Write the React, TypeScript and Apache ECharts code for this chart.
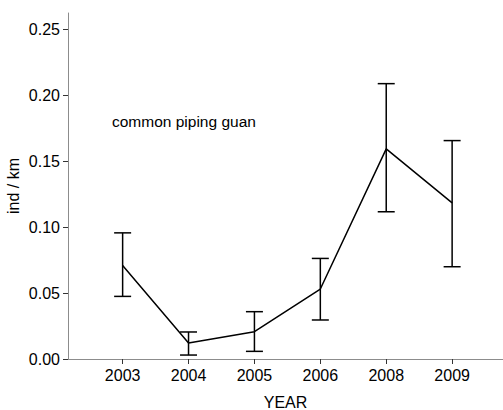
import React, { useEffect, useRef } from "react";
import * as echarts from "echarts";

const years = ["2003", "2004", "2005", "2006", "2008", "2009"];
const means = [0.071, 0.0121, 0.0207, 0.0531, 0.1594, 0.1185];
const upper = [0.0957, 0.0205, 0.0359, 0.0763, 0.2089, 0.1657];
const lower = [0.0475, 0.003, 0.0058, 0.0296, 0.1117, 0.07];
const yTicks = [0, 0.05, 0.1, 0.15, 0.2, 0.25];
const annotation = "common piping guan";

const FONT = "'Liberation Sans', Arial, sans-serif";

export default function App() {
  const ref = useRef<HTMLDivElement>(null);
  useEffect(() => {
    if (!ref.current) return;
    const chart = echarts.init(ref.current, null, { renderer: "svg" });
    const idx = years.map((_, i) => i);
    chart.setOption({
      animation: false,
      backgroundColor: "#ffffff",
      grid: {
        left: 68,
        right: 0,
        top: 13,
        bottom: 51,
        containLabel: false,
        outerBoundsMode: "none",
      },
      xAxis: {
        type: "value",
        min: -0.829,
        max: 5.772,
        name: "YEAR",
        nameLocation: "middle",
        nameGap: 35,
        nameMoveOverlap: false,
        nameTextStyle: { fontFamily: FONT, fontSize: 16, color: "#000" },
        axisLine: { show: true, onZero: false, lineStyle: { color: "#8c8c8c", width: 1 } },
        axisTick: {
          show: true,
          customValues: idx,
          length: 5,
          lineStyle: { color: "#333", width: 1 },
        },
        axisLabel: {
          customValues: idx,
          formatter: (v: number) => years[Math.round(v)] ?? "",
          fontFamily: FONT,
          fontSize: 16,
          color: "#000",
          margin: 8,
        },
        splitLine: { show: false },
      },
      yAxis: {
        type: "value",
        min: 0,
        max: 0.2625,
        name: "ind / km",
        nameLocation: "middle",
        nameGap: 47,
        nameRotate: 90,
        nameMoveOverlap: false,
        nameTextStyle: { fontFamily: FONT, fontSize: 16, color: "#000" },
        axisLine: { show: true, onZero: false, lineStyle: { color: "#8c8c8c", width: 1 } },
        axisTick: {
          show: true,
          customValues: yTicks,
          length: 5,
          lineStyle: { color: "#333", width: 1 },
        },
        axisLabel: {
          customValues: yTicks,
          formatter: (v: number) => v.toFixed(2),
          fontFamily: FONT,
          fontSize: 16,
          color: "#000",
          margin: 8,
        },
        splitLine: { show: false },
      },
      graphic: [
        {
          type: "text",
          left: 112,
          top: 113,
          style: {
            text: annotation,
            fontFamily: FONT,
            fontSize: 15.5,
            fill: "#000",
          },
        },
      ],
      series: [
        {
          type: "line",
          data: means.map((m, i) => [i, m]),
          showSymbol: false,
          symbol: "none",
          lineStyle: { color: "#000", width: 1.5 },
          z: 3,
        },
        {
          type: "custom",
          data: idx.map((i) => [i, lower[i], upper[i]]),
          renderItem: (params: any, api: any) => {
            const x = api.value(0);
            const top = api.coord([x, api.value(2)]);
            const bot = api.coord([x, api.value(1)]);
            const hw = 8.5;
            const style = { stroke: "#000", lineWidth: 1.5 };
            return {
              type: "group",
              children: [
                { type: "line", shape: { x1: top[0], y1: top[1], x2: bot[0], y2: bot[1] }, style },
                { type: "line", shape: { x1: top[0] - hw, y1: top[1], x2: top[0] + hw, y2: top[1] }, style },
                { type: "line", shape: { x1: bot[0] - hw, y1: bot[1], x2: bot[0] + hw, y2: bot[1] }, style },
              ],
            };
          },
          z: 4,
        },
      ],
    });
    return () => chart.dispose();
  }, []);
  return (
    <div
      ref={ref}
      style={{ position: "fixed", left: 0, top: 0, width: 503, height: 410 }}
    />
  );
}
